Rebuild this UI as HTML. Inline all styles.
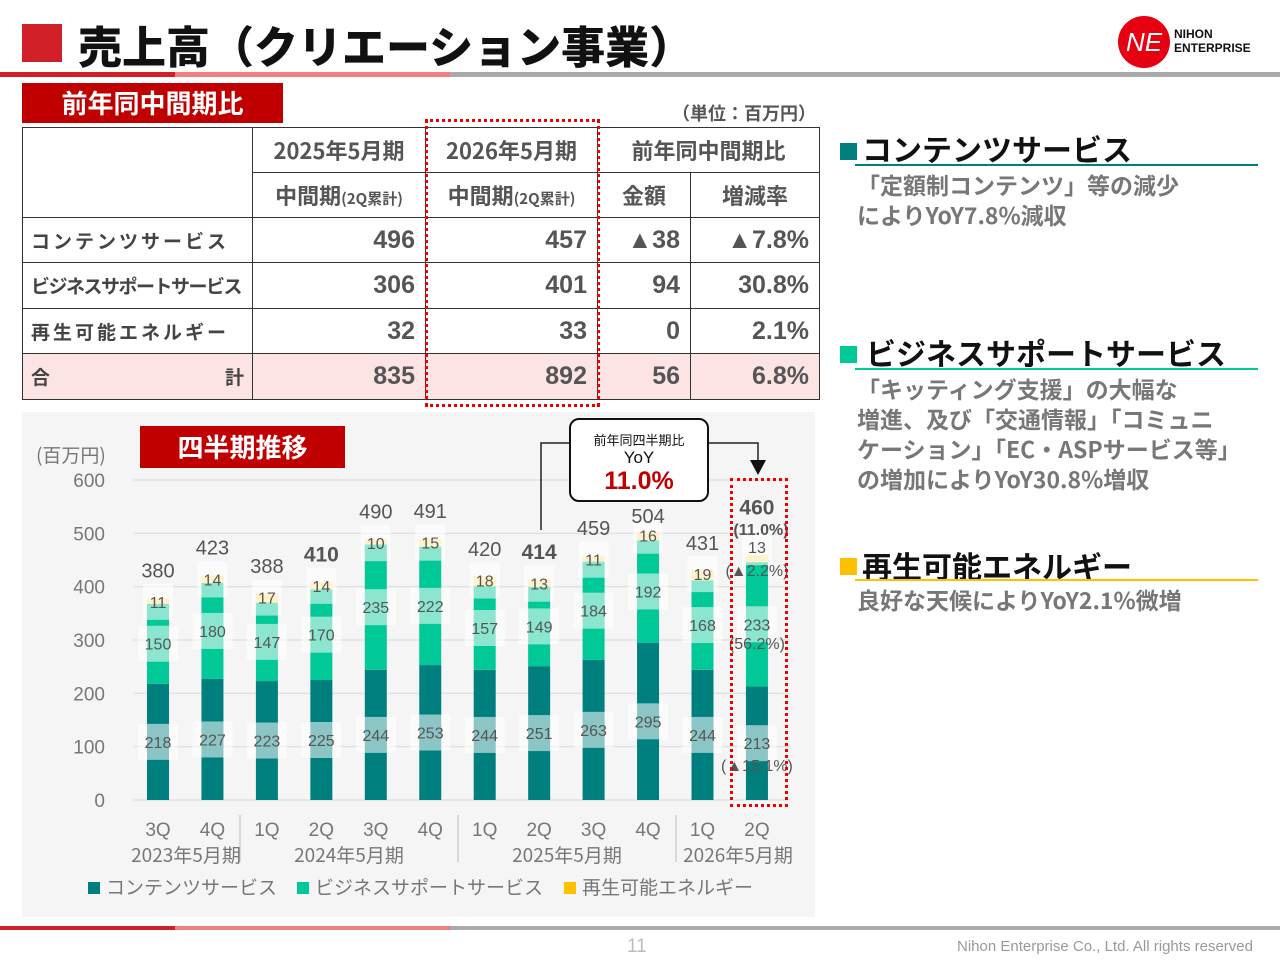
<!DOCTYPE html>
<html><head><meta charset="utf-8">
<style>
body{margin:0;width:1280px;height:960px;background:#fff;font-family:"Liberation Sans","Noto Sans CJK JP",sans-serif;position:relative;overflow:hidden;color:#333}
.abs{position:absolute}
table{border-collapse:collapse;position:absolute;left:22px;top:127px;font-weight:bold;font-size:25px;color:#555;table-layout:fixed;width:797px}
td{border:1px solid #333;height:44px;padding:0 10px;text-align:right;white-space:nowrap;overflow:hidden;box-sizing:border-box}
.jp{font-family:"Noto Sans CJK JP",sans-serif}
.rh{font-size:19px;color:#444;text-align:left;padding:0 8px}
.sec{font-weight:bold;font-size:30px;color:#111;font-family:"Noto Sans CJK JP",sans-serif}
.desc{font-size:23px;color:#777;font-weight:bold;line-height:30px;font-family:"Noto Sans CJK JP",sans-serif}
</style></head><body>
<div class="abs" style="left:22px;top:24px;width:40px;height:38px;background:#d01f26"></div>
<div class="abs jp" style="left:78px;top:12px;font-size:44px;font-weight:900;color:#111">売上高（クリエーション事業）</div>
<div class="abs" style="left:1118px;top:16px;width:52px;height:52px;border-radius:50%;background:#e60012;color:#fff;font-size:26px;text-align:center;line-height:52px;font-style:italic">NE</div>
<div class="abs" style="left:1174px;top:27px;font-size:12px;font-weight:bold;line-height:14px;color:#111">NIHON<br>ENTERPRISE</div>
<div class="abs" style="left:0;top:72px;width:1280px;height:5px;background:linear-gradient(90deg,#d01f26 0 175px,#f08080 175px 450px,#aaa 450px)"></div>
<div class="abs jp" style="left:22px;top:83px;width:261px;height:40px;background:#c00000;color:#fff;font-size:26px;font-weight:bold;text-align:center;line-height:40px">前年同中間期比</div>
<div class="abs jp" style="left:672px;top:100px;font-size:18px;font-weight:bold;color:#555">（単位：百万円）</div>
<table>
<colgroup><col style="width:230px"><col style="width:173px"><col style="width:172px"><col style="width:93px"><col style="width:129px"></colgroup>
<tr style="height:45px"><td rowspan="2"></td><td class="jp" style="text-align:center;font-size:22px">2025年5月期</td><td class="jp" style="text-align:center;font-size:22px">2026年5月期</td><td class="jp" colspan="2" style="text-align:center;font-size:22px">前年同中間期比</td></tr>
<tr style="height:45px"><td class="jp" style="text-align:center;font-size:22px;padding:0">中間期<span style="font-size:15px">(2Q累計)</span></td><td class="jp" style="text-align:center;font-size:22px;padding:0">中間期<span style="font-size:15px">(2Q累計)</span></td><td class="jp" style="text-align:center;font-size:22px">金額</td><td class="jp" style="text-align:center;font-size:22px">増減率</td></tr>
<tr style="height:45px"><td class="rh jp" style="letter-spacing:3px">コンテンツサービス</td><td>496</td><td>457</td><td>▲38</td><td>▲7.8%</td></tr>
<tr style="height:46px"><td class="rh jp" style="letter-spacing:-1.5px">ビジネスサポートサービス</td><td>306</td><td>401</td><td>94</td><td>30.8%</td></tr>
<tr style="height:45px"><td class="rh jp" style="letter-spacing:3px">再生可能エネルギー</td><td>32</td><td>33</td><td>0</td><td>2.1%</td></tr>
<tr style="height:46px;background:#fde4e4"><td class="rh jp">合<span style="float:right">計</span></td><td>835</td><td>892</td><td>56</td><td>6.8%</td></tr>
</table>
<div class="abs" style="left:425px;top:119px;width:169px;height:282px;border:3px dotted #e00"></div>

<div class="abs" style="left:22px;top:412px;width:793px;height:505px;background:#f5f5f5"></div>
<svg class="abs" style="left:0;top:0" width="1280" height="960" id="chart">
<g id="grid"></g><g id="bars"></g><g id="labels"></g>
</svg>
<div class="abs" style="left:569px;top:418px;width:136px;height:80px;border:2px solid #111;border-radius:10px;background:#fff;text-align:center">
<div class="jp" style="font-size:13px;margin-top:10px;color:#111">前年同四半期比</div>
<div style="font-size:17px;color:#111;line-height:18px">YoY</div>
<div style="font-size:25px;color:#c00000;font-weight:bold">11.0%</div></div>
<div class="abs jp" style="left:140px;top:426px;width:205px;height:42px;background:#c00000;color:#fff;font-size:26px;font-weight:bold;text-align:center;line-height:42px">四半期推移</div>
<div class="abs jp" style="left:36px;top:441px;font-size:19px;color:#777">(百万円)</div>
<div class="abs" style="left:730px;top:478px;width:52px;height:323px;border:3px dotted #e00"></div>

<div class="abs" style="left:840px;top:143px;width:17px;height:17px;background:#007f7f"></div>
<div class="abs sec" style="left:862px;top:126px">コンテンツサービス</div>
<div class="abs" style="left:855px;top:164px;width:403px;height:2px;background:#007f7f"></div>
<div class="abs desc" style="left:857px;top:169px">「定額制コンテンツ」等の減少<br>によりYoY7.8%減収</div>
<div class="abs" style="left:840px;top:346px;width:17px;height:17px;background:#00c896"></div>
<div class="abs sec" style="left:866px;top:330px">ビジネスサポートサービス</div>
<div class="abs" style="left:855px;top:368px;width:403px;height:2px;background:#00c896"></div>
<div class="abs desc" style="left:857px;top:373px">「キッティング支援」の大幅な<br>増進、及び「交通情報」「コミュニ<br>ケーション」「EC・ASPサービス等」<br>の増加によりYoY30.8%増収</div>
<div class="abs" style="left:840px;top:558px;width:17px;height:17px;background:#ffc000"></div>
<div class="abs sec" style="left:862px;top:543px">再生可能エネルギー</div>
<div class="abs" style="left:855px;top:579px;width:403px;height:2px;background:#ffc000"></div>
<div class="abs desc" style="left:857px;top:584px">良好な天候によりYoY2.1%微増</div>

<div class="abs" style="left:0;top:926px;width:1280px;height:4px;background:linear-gradient(90deg,#d01f26 0 175px,#f08080 175px 450px,#aaa 450px)"></div>
<div class="abs" style="left:627px;top:936px;font-size:19px;color:#bbb">11</div>
<div class="abs" style="left:957px;top:938px;font-size:15px;color:#999">Nihon Enterprise Co., Ltd. All rights reserved</div>

<script>
const quarters=["3Q","4Q","1Q","2Q","3Q","4Q","1Q","2Q","3Q","4Q","1Q","2Q"];
const contentVals=[218,227,223,225,244,253,244,251,263,295,244,213];
const businessVals=[150,180,147,170,235,222,157,149,184,192,168,233];
const renewVals=[11,14,17,14,10,15,18,13,11,16,19,13];
const totalVals=[380,423,388,410,490,491,420,414,459,504,431,460];
const boldTotals=[false,false,false,true,false,false,false,true,false,false,false,true];
const yTicks=[0,100,200,300,400,500,600];
const NS="http://www.w3.org/2000/svg";
const y=v=>800-v*(320/600);
const x=i=>158+i*54.45;
const G=document.getElementById('grid'),B=document.getElementById('bars'),L=document.getElementById('labels');
function mk(tag,attrs,parent,text){const e=document.createElementNS(NS,tag);for(const k in attrs)e.setAttribute(k,attrs[k]);if(text!==undefined)e.textContent=text;parent.appendChild(e);return e;}
yTicks.forEach(t=>{
 const l=mk('line',{x1:133,x2:790,y1:y(t),y2:y(t),stroke:'#e2e2e2','stroke-width':1.5},G);
 
 
 const tx=mk('text',{x:105,y:y(t)+7,'text-anchor':'end','font-size':19,fill:'#777'},G,t);
 
 
});
function lbl(cx,cy,txt,w){
 const r=mk('rect',{x:cx-w/2,y:cy-18,width:w,height:36,fill:'rgba(255,255,255,0.55)'},L);
 
 
 const t=mk('text',{x:cx,y:cy+6,'text-anchor':'middle','font-size':16,fill:'#555'},L,txt);
 
 
}
quarters.forEach((q,i)=>{
 const cx=x(i),w=22;
 const c=contentVals[i],b=businessVals[i],r=renewVals[i];
 const s1=mk('rect',{x:cx-w/2,y:y(c),width:w,height:y(0)-y(c),fill:'#007f7f'},B);
 
 
 const s2=mk('rect',{x:cx-w/2,y:y(c+b),width:w,height:y(c)-y(c+b),fill:'#00c896'},B);
 
 
 const s3=mk('rect',{x:cx-w/2,y:y(c+b+r),width:w,height:y(c+b)-y(c+b+r),fill:'#ffe08a'},B);
 
 
 lbl(cx,y(c/2),c,40);
 lbl(cx,y(c+b/2),b,40);
 lbl(cx,y(c+b+r)+4-(i==11?12:0),r,30);
 const off=(i==9)?8:(i==11?40:20);
 const tt=mk('text',{x:cx,y:y(totalVals[i])-off,'text-anchor':'middle','font-size':boldTotals[i]?21:20,fill:'#555','font-weight':boldTotals[i]?'bold':'normal'},L,totalVals[i]);
 
 
 const ql=mk('text',{x:cx,y:836,'text-anchor':'middle','font-size':19,fill:'#777'},L,q);
 
 
});
let a=mk('text',{x:x(11)+4,y:535,'text-anchor':'middle','font-size':16,fill:'#555','font-weight':'bold'},L,'(11.0%)');

a=mk('text',{x:x(11),y:576,'text-anchor':'middle','font-size':16,fill:'#555'},L,'(▲2.2%)');

a=mk('text',{x:x(11),y:649,'text-anchor':'middle','font-size':16,fill:'#555'},L,'(56.2%)');

a=mk('text',{x:x(11),y:771,'text-anchor':'middle','font-size':16,fill:'#555'},L,'(▲15.1%)');

const groups=[["2023年5月期",186],["2024年5月期",349],["2025年5月期",567],["2026年5月期",738]];
groups.forEach(g=>{const t=mk('text',{x:g[1],y:862,'text-anchor':'middle','font-size':19,fill:'#777','font-family':'Noto Sans CJK JP'},L,g[0]);
 
 });
[240,458,676].forEach(sx=>{const l=mk('line',{x1:sx,x2:sx,y1:815,y2:862,stroke:'#bbb'},G);
 
 });
mk('polyline',{points:'541,530 541,443 569,443',fill:'none',stroke:'#222','stroke-width':1.5},L);
mk('polyline',{points:'707,443 758,443 758,462',fill:'none',stroke:'#222','stroke-width':1.5},L);
mk('polygon',{points:'750,460 766,460 758,475',fill:'#111'},L);
const leg=[['#007f7f','コンテンツサービス',88],['#00c896','ビジネスサポートサービス',297],['#ffc000','再生可能エネルギー',564]];
leg.forEach(l=>{const r=mk('rect',{x:l[2],y:882,width:12,height:12,fill:l[0]},L);
 
 
 const t=mk('text',{x:l[2]+18,y:894,'font-size':19,fill:'#777','font-family':'Noto Sans CJK JP'},L,l[1]);
 
 });
</script>
</body></html>
